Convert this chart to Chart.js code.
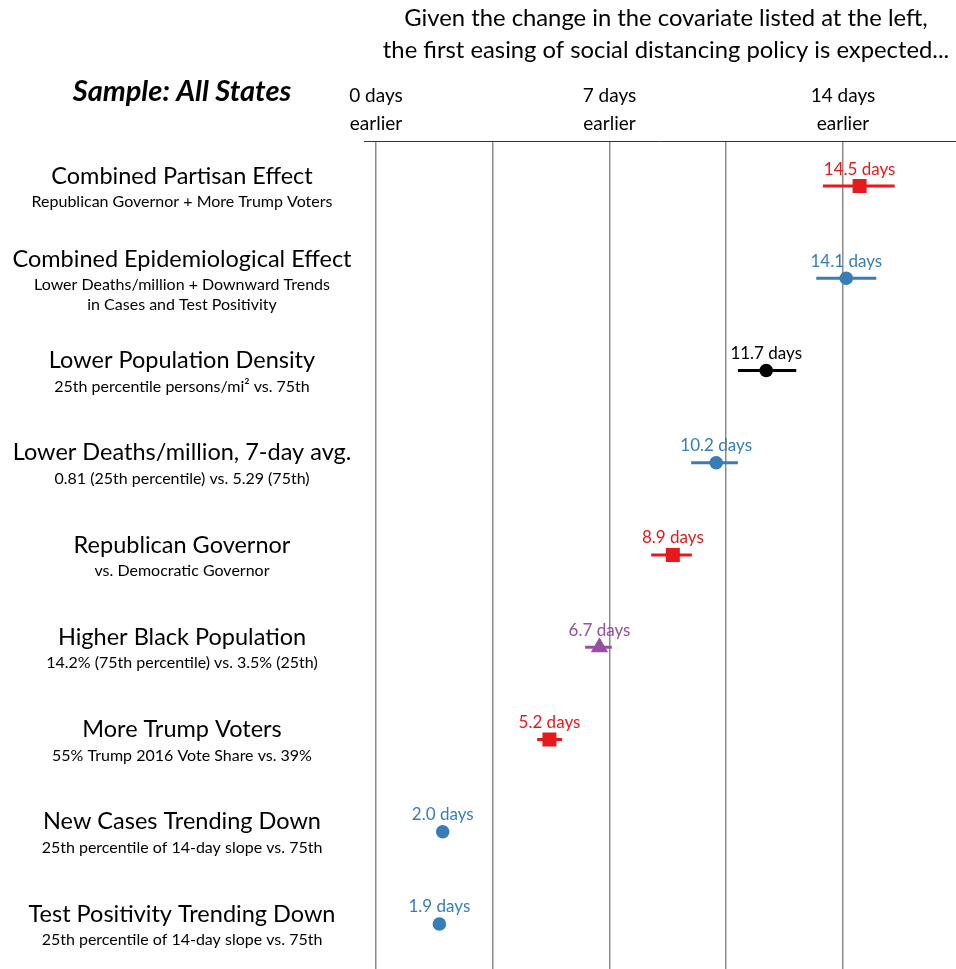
<!DOCTYPE html>
<html>
<head>
<meta charset="utf-8">
<script src="https://cdn.jsdelivr.net/npm/chart.js@4"></script>
<style>
  body { margin: 0; background: #fff; }
  #wrap { width: 956px; height: 969px; position: relative; }
</style>
</head>
<body>
<div id="wrap"><canvas id="effectChart"></canvas></div>
<script>
const FONT = 'Lato, "Open Sans", sans-serif';

const rowTitles = [
  'Combined Partisan Effect',
  'Combined Epidemiological Effect',
  'Lower Population Density',
  'Lower Deaths/million, 7-day avg.',
  'Republican Governor',
  'Higher Black Population',
  'More Trump Voters',
  'New Cases Trending Down',
  'Test Positivity Trending Down'
];
const rowNotes = [
  ['Republican Governor + More Trump Voters'],
  ['Lower Deaths/million + Downward Trends', 'in Cases and Test Positivity'],
  ['25th percentile persons/mi\u00b2 vs. 75th'],
  ['0.81 (25th percentile) vs. 5.29 (75th)'],
  ['vs. Democratic Governor'],
  ['14.2% (75th percentile) vs. 3.5% (25th)'],
  ['55% Trump 2016 Vote Share vs. 39%'],
  ['25th percentile of 14-day slope vs. 75th'],
  ['25th percentile of 14-day slope vs. 75th']
];
const estimates = [14.5, 14.1, 11.7, 10.2, 8.9, 6.7, 5.2, 2.0, 1.9];
const lowerCI   = [13.4, 13.2, 10.85, 9.45, 8.25, 6.27, 4.83, 1.9, 1.8];
const upperCI   = [15.55, 15.0, 12.6, 10.85, 9.47, 7.07, 5.58, 2.1, 2.0];
const pointColors = ['#e41a1c', '#377eb8', '#000000', '#377eb8', '#e41a1c', '#984ea3', '#e41a1c', '#377eb8', '#377eb8'];
const pointShapes = ['rect', 'circle', 'circle', 'circle', 'rect', 'triangle', 'rect', 'circle', 'circle'];
const tickValues = [0, 3.5, 7, 10.5, 14];
const tickLabels = [['0 days', 'earlier'], '', ['7 days', 'earlier'], '', ['14 days', 'earlier']];

const radiusFor = s => s === 'rect' ? 9.9 : (s === 'triangle' ? 10 : 6.8);

const textPlugin = {
  id: 'textPlugin',
  beforeDatasetsDraw(chart) {
    const { ctx, scales: { x, y } } = chart;
    ctx.save();
    ctx.lineWidth = 3;
    estimates.forEach((v, i) => {
      const py = y.getPixelForValue(i);
      ctx.strokeStyle = pointColors[i];
      ctx.beginPath();
      ctx.moveTo(x.getPixelForValue(lowerCI[i]), py);
      ctx.lineTo(x.getPixelForValue(upperCI[i]), py);
      ctx.stroke();
    });
    ctx.restore();
  },
  afterDraw(chart) {
    const { ctx, scales: { x, y } } = chart;
    ctx.save();
    ctx.textAlign = 'center';
    ctx.textBaseline = 'middle';

    // title
    ctx.fillStyle = '#000';
    ctx.font = '23.8px ' + FONT;
    ctx.fillText('Given the change in the covariate listed at the left,', 666, 18);
    ctx.fillText('the first easing of social distancing policy is expected...', 666, 50);

    ctx.font = 'italic bold 29px ' + FONT;
    ctx.fillText('Sample: All States', 182, 92);

    // value labels
    ctx.font = '17px ' + FONT;
    estimates.forEach((v, i) => {
      ctx.fillStyle = pointColors[i];
      ctx.fillText(v.toFixed(1) + ' days', x.getPixelForValue(v), y.getPixelForValue(i) - 17);
    });

    // row labels on the left
    ctx.fillStyle = '#000';
    rowTitles.forEach((t, i) => {
      const py = y.getPixelForValue(i);
      const shift = (rowNotes[i].length - 1) * 9;
      ctx.font = '23.5px ' + FONT;
      ctx.fillText(t, 182, py - 10 - shift);
      ctx.font = '16px ' + FONT;
      rowNotes[i].forEach((n, k) => {
        ctx.fillText(n, 182, py + 16 - shift + k * 20);
      });
    });
    ctx.restore();
  }
};

const ctx = document.getElementById('effectChart').getContext('2d');
new Chart(ctx, {
  type: 'scatter',
  data: {
    datasets: [{
      data: estimates.map((v, i) => ({ x: v, y: i })),
      pointStyle: pointShapes,
      pointRadius: pointShapes.map(radiusFor),
      pointHoverRadius: pointShapes.map(radiusFor),
      backgroundColor: pointColors,
      borderColor: pointColors,
      borderWidth: 0
    }]
  },
  options: {
    responsive: true,
    maintainAspectRatio: false,
    animation: false,
    layout: { autoPadding: false, padding: { left: 364, top: 0, right: 0, bottom: 0 } },
    plugins: { legend: { display: false }, tooltip: { enabled: false } },
    scales: {
      x: {
        type: 'linear',
        position: 'top',
        min: -0.36,
        max: 17.39,
        afterBuildTicks: scale => { scale.ticks = tickValues.map(v => ({ value: v })); },
        afterFit: scale => { scale.height = 141; },
        grid: { color: '#8c8c8c', lineWidth: 1.5, drawTicks: false },
        border: { display: true, color: '#333', width: 1 },
        ticks: {
          padding: 3,
          color: '#000',
          font: { family: FONT, size: 19, lineHeight: 1.47 },
          maxRotation: 0,
          autoSkip: false,
          callback: (v, idx) => tickLabels[idx]
        }
      },
      y: {
        type: 'linear',
        display: false,
        reverse: true,
        min: -0.488,
        max: 8.488
      }
    }
  },
  plugins: [textPlugin]
});
</script>
</body>
</html>
